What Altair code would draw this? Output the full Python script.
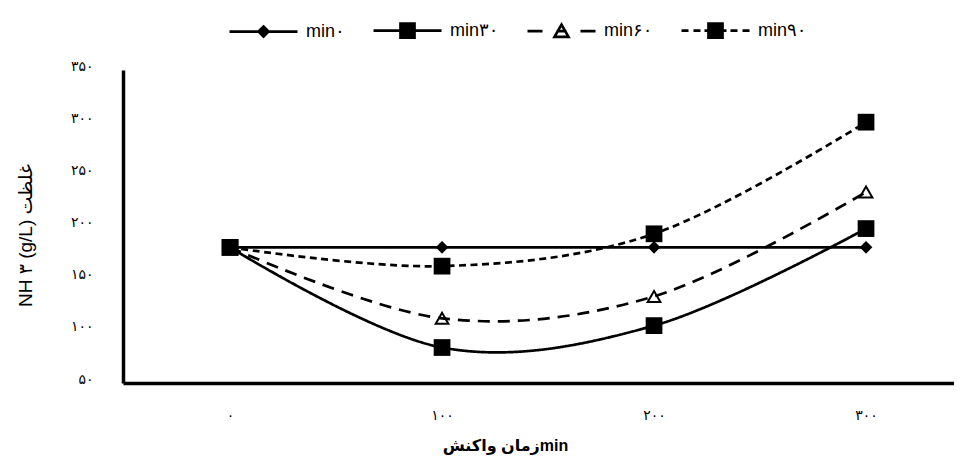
import altair as alt
import pandas as pd

# ---------------- data ----------------
series_names = ["min۰", "min۳۰", "min۶۰", "min۹۰"]
x_values = [0, 100, 200, 300]
x_labels = ["۰", "۱۰۰", "۲۰۰", "۳۰۰"]
y_ticks = [50, 100, 150, 200, 250, 300, 350]
y_labels = ["۵۰", "۱۰۰", "۱۵۰", "۲۰۰", "۲۵۰", "۳۰۰", "۳۵۰"]
min0 = [180, 180, 180, 180]
min30 = [180, 84, 105, 198]
min60 = [180, 112, 133, 233]
min90 = [180, 162, 193, 300]
series_values = [min0, min30, min60, min90]

x_title = "زمان واکنشmin"
y_title = "NH ۳ (g/L)      غلظت"

# ---------------- styles ----------------
FONT = "Liberation Sans, DejaVu Sans"
dashes = [[1, 0], [1, 0], [12, 8], [7, 4.5]]
shapes = ["diamond", "square", "triangle-up", "square"]
sizes = [160, 280, 160, 280]
filled = [True, True, False, True]
legend_fills = ["black", "black", "white", "black"]
legend_strokes = ["black", "black", "black", "black"]
legend_paths = [
    "M-3.4,0H3.4M0,-0.5L0.5,0L0,0.5L-0.5,0Z",
    "M-3.4,0H3.4M-0.7,-0.7H0.7V0.7H-0.7Z",
    "M-3.4,0H-1.9M-0.5,0H0.5M1.9,0H3.4M0,-0.65L0.7,0.58L-0.7,0.58Z",
    "M-3.4,0H-2.7M-2.2,0H-1.5M-1.1,0H1.1M1.5,0H2.2M2.7,0H3.4M-0.7,-0.7H0.7V0.7H-0.7Z",
]

rows = []
for name, vals in zip(series_names, series_values):
    for xv, yv in zip(x_values, vals):
        rows.append({"series": name, "time": xv, "value": yv})
df = pd.DataFrame(rows)

# legend-only rows: no position, so nothing is drawn in the plot
legend_df = pd.DataFrame(
    {"series": series_names, "time": [None] * 4, "value": [None] * 4}
)


def label_expr(vals, labels):
    parts = [f"datum.value == {v} ? '{l}'" for v, l in zip(vals, labels)]
    return " : ".join(parts) + " : ''"


x_enc = alt.X(
    "time:Q",
    scale=alt.Scale(domain=[-50.5, 341.5], nice=False, zero=False),
    axis=alt.Axis(
        values=x_values,
        labelExpr=label_expr(x_values, x_labels),
        title=x_title,
        ticks=False,
        tickSize=0,
        grid=False,
        domainColor="black",
        domainWidth=3.3,
        labelPadding=25,
        labelFontSize=14,
        labelFont=FONT,
        labelColor="black",
        labelFlush=False,
        labelOverlap=False,
        titleFont=FONT,
        titleFontSize=16,
        titleFontWeight="bold",
        titleColor="black",
        titleX=382,
        titleY=62,
        titleBaseline="middle",
        titleAlign="center",
    ),
)
y_enc = alt.Y(
    "value:Q",
    scale=alt.Scale(domain=[50, 350], nice=False, zero=False),
    axis=alt.Axis(
        values=y_ticks,
        labelExpr=label_expr(y_ticks, y_labels),
        title=y_title,
        ticks=False,
        tickSize=0,
        grid=False,
        domainColor="black",
        domainWidth=3.5,
        labelPadding=30,
        labelOffset=-4,
        labelFontSize=14,
        labelFont=FONT,
        labelColor="black",
        labelOverlap=False,
        titleFont=FONT,
        titleFontSize=19,
        titleFontWeight="normal",
        titleColor="black",
        titleX=-88,
        titleY=165,
    ),
)

layers = []
for i, name in enumerate(series_names):
    base = alt.Chart(df).transform_filter(alt.datum.series == name)
    layers.append(
        base.mark_line(
            interpolate="cardinal",
            color="black",
            strokeWidth=2.7,
            strokeDash=dashes[i],
        ).encode(x=x_enc, y=y_enc)
    )
for i, name in enumerate(series_names):
    base = alt.Chart(df).transform_filter(alt.datum.series == name)
    layers.append(
        base.mark_point(
            shape=shapes[i],
            size=sizes[i],
            filled=filled[i],
            color="black",
            strokeWidth=2,
            opacity=1,
        ).encode(x=x_enc, y=y_enc)
    )

legend = alt.Legend(
    orient="none",
    legendX=129,
    legendY=-51,
    direction="horizontal",
    columns=4,
    title=None,
    symbolSize=400,
    labelOffset=31,
    columnPadding=23,
    labelFontSize=18,
    labelFont=FONT,
    labelColor="black",
    labelLimit=0,
    symbolStrokeWidth=2.7,
    symbolStrokeColor="black",
    symbolOpacity=1,
    padding=0,
)
legend_layer = alt.Chart(legend_df).mark_point(
    opacity=1, filled=True, strokeWidth=2.7
).encode(
    x=x_enc,
    y=y_enc,
    fill=alt.Fill(
        "series:N",
        scale=alt.Scale(domain=series_names, range=legend_fills),
        legend=legend,
    ),
    stroke=alt.Stroke(
        "series:N",
        scale=alt.Scale(domain=series_names, range=legend_strokes),
        legend=legend,
    ),
    shape=alt.Shape(
        "series:N",
        scale=alt.Scale(domain=series_names, range=legend_paths),
        legend=legend,
    ),
)
layers.append(legend_layer)

chart = (
    alt.layer(*layers)
    .properties(
        width=831,
        height=313,
        padding={"left": 115, "top": 62, "right": 0, "bottom": 74},
        autosize=alt.AutoSizeParams(type="none"),
        background="white",
    )
    .configure_view(stroke=None)
)

chart.save("out.html", embed_options={"renderer": "svg", "actions": False})
